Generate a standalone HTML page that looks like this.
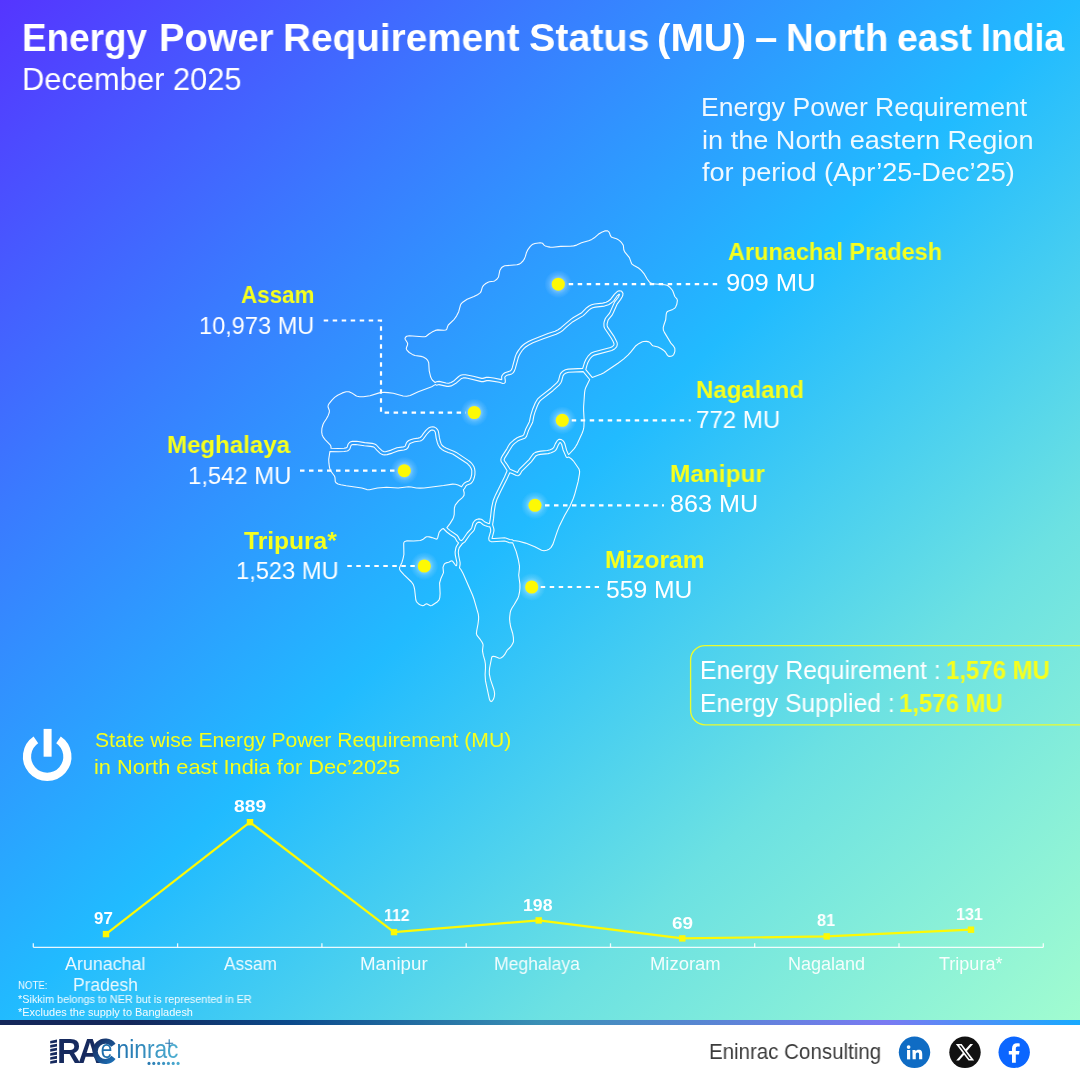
<!DOCTYPE html>
<html lang="en"><head><meta charset="utf-8"><title>Energy Power Requirement Status (MU) – North east India</title>
<style>
html,body{margin:0;padding:0;}
body{width:1080px;height:1080px;overflow:hidden;background:#fff;position:relative;font-family:"Liberation Sans", sans-serif;}
.bg{position:absolute;left:0;top:0;width:1080px;height:1020px;background:linear-gradient(to bottom right,#5535ff 0%,#3a7aff 25%,#21bbff 50%,#6ce1e2 75%,#a1fcd0 100%);}
.strip{position:absolute;left:0;top:1020px;width:1080px;height:5px;background:linear-gradient(to right,#14275a 0%,#14275a 12%,#0b4a8c 27%,#3a90b6 50%,#7a7af2 82%,#18aaff 100%);}
.foot{position:absolute;left:0;top:1025px;width:1080px;height:55px;background:#fff;}
svg.ov{position:absolute;left:0;top:0;will-change:transform;}
.t{position:absolute;white-space:nowrap;line-height:1;transform-origin:0 0;font-family:"Liberation Sans", sans-serif;will-change:transform;}
#wrap{position:absolute;left:0;top:0;width:1080px;height:1080px;}
</style></head><body><div id="wrap">
<div class="bg"></div><div class="strip"></div><div class="foot"></div>
<svg class="ov" width="1080" height="1080" viewBox="0 0 1080 1080">
<defs><radialGradient id="halo"><stop offset="0.4" stop-color="#fff" stop-opacity="0.42"/><stop offset="0.68" stop-color="#fff" stop-opacity="0.16"/><stop offset="1" stop-color="#fff" stop-opacity="0"/></radialGradient></defs>
<g id="map"><path d="M407.7 343.7 L407.5 345.0 L406.5 347.5 L406.3 348.7 L406.9 350.1 L409.2 352.5 L412.3 354.4 L415.0 355.5 L421.1 356.4 L423.3 357.0 L425.8 358.4 L427.7 360.4 L428.7 362.7 L429.2 370.8 L430.7 377.1 L431.7 379.1 L432.5 380.3 L435.2 382.5 L437.1 381.6 L439.2 381.4 L446.0 383.0 L448.2 383.2 L449.3 383.1 L451.1 382.4 L454.1 380.7 L458.7 376.5 L460.0 375.6 L461.5 375.0 L463.0 374.7 L465.5 374.7 L468.2 375.2 L473.3 376.2 L481.7 378.4 L482.9 378.4 L486.3 377.4 L488.3 377.3 L493.7 378.0 L501.5 379.6 L501.8 379.3 L501.6 376.7 L502.2 375.3 L503.2 374.0 L504.9 372.8 L510.1 371.1 L511.3 369.9 L512.2 367.9 L515.4 356.1 L516.6 353.4 L518.1 350.9 L520.6 347.5 L522.5 345.5 L524.7 343.7 L528.4 341.5 L532.8 339.4 L548.0 333.6 L555.1 331.2 L558.1 329.8 L561.0 327.7 L564.8 324.3 L571.1 319.1 L573.4 317.5 L581.3 313.1 L586.7 307.7 L589.1 306.0 L591.6 304.8 L594.6 304.0 L602.7 303.1 L606.1 302.3 L608.1 301.2 L610.7 299.2 L614.5 294.2 L617.2 291.6 L619.1 290.8 L621.2 291.0 L621.9 291.6 L623.0 293.4 L622.8 295.2 L622.2 296.8 L620.5 299.6 L617.3 303.8 L613.3 312.8 L611.9 315.4 L608.6 319.3 L608.1 320.2 L607.1 323.8 L607.2 325.9 L607.5 326.9 L613.8 336.1 L616.6 341.4 L617.2 343.0 L617.3 344.3 L616.9 346.2 L615.9 347.7 L614.6 348.9 L611.8 350.5 L594.4 355.1 L592.4 356.2 L590.8 357.8 L589.4 359.8 L587.8 362.8 L587.0 365.1 L585.8 369.6 L592.2 377.4 L600.8 374.2 L603.5 373.0 L618.0 363.3 L623.5 359.1 L628.2 354.9 L630.7 352.2 L634.1 347.8 L635.9 345.7 L639.1 343.4 L642.4 341.8 L643.8 341.5 L646.5 341.4 L648.9 341.9 L650.0 342.6 L651.8 344.9 L652.8 345.7 L658.0 347.0 L661.3 348.7 L663.5 350.2 L665.4 352.0 L667.5 355.4 L668.3 356.1 L669.6 356.4 L671.1 356.2 L672.5 355.7 L673.5 354.8 L674.1 353.8 L674.9 351.1 L674.8 348.3 L673.6 346.2 L670.9 343.1 L664.4 332.4 L663.4 330.1 L663.2 327.7 L663.9 325.0 L665.7 319.8 L666.2 314.3 L666.5 313.1 L667.0 312.0 L667.9 311.3 L672.8 309.4 L674.8 308.1 L675.6 307.0 L676.8 304.3 L677.4 300.4 L676.9 298.9 L674.8 296.5 L672.9 291.2 L672.2 290.0 L670.4 287.8 L668.3 286.0 L667.0 285.3 L664.6 284.7 L652.5 283.8 L650.2 282.8 L649.3 281.9 L647.0 278.7 L644.4 274.2 L641.3 270.4 L638.5 268.0 L634.0 265.5 L632.0 264.1 L631.3 262.9 L629.4 257.6 L624.9 252.2 L624.3 251.1 L623.8 249.8 L623.4 245.8 L622.9 244.6 L621.6 242.7 L619.8 240.9 L617.8 239.4 L616.5 238.8 L612.4 237.5 L611.3 236.9 L610.4 235.6 L609.4 232.7 L608.6 231.6 L607.6 230.9 L606.4 230.7 L604.8 230.9 L601.7 232.2 L598.3 234.3 L594.3 237.8 L591.8 239.4 L588.6 240.7 L581.5 242.8 L576.6 245.1 L573.7 245.9 L570.1 246.3 L560.7 246.4 L552.8 247.2 L550.1 247.1 L547.4 246.6 L545.2 245.9 L544.1 245.1 L542.6 243.3 L540.2 242.7 L534.9 243.5 L532.2 244.6 L530.3 246.4 L527.7 249.9 L526.5 252.4 L525.4 256.4 L524.4 258.9 L523.0 261.0 L521.3 262.7 L519.3 264.1 L516.9 264.8 L504.8 265.8 L503.7 266.2 L502.4 266.9 L501.3 268.0 L499.8 270.6 L498.5 277.0 L496.9 279.3 L494.6 280.9 L493.5 281.3 L489.4 281.8 L488.1 282.2 L485.8 283.5 L483.8 285.1 L483.0 286.1 L482.3 287.3 L481.1 291.4 L480.4 292.6 L479.5 293.4 L477.5 294.7 L473.9 296.5 L467.1 299.3 L462.7 302.2 L460.9 304.2 L460.4 305.3 L458.7 311.7 L456.5 316.1 L454.2 319.3 L448.3 325.0 L447.6 326.5 L446.8 329.1 L445.8 330.0 L443.6 330.3 L437.9 329.9 L435.4 330.4 L432.0 332.1 L429.0 334.0 L426.2 336.2 L425.0 336.7 L422.5 336.8 L409.4 335.7 L406.7 336.3 L405.5 337.2 L405.0 338.4 L405.3 339.5 L407.1 342.3Z" fill="none" stroke="#fff" stroke-width="1.1" stroke-linejoin="round" opacity="0.95"/>
<path d="M329.3 410.2 L329.4 411.5 L329.2 412.8 L328.2 415.4 L326.3 419.0 L324.1 422.2 L323.0 424.5 L321.9 428.3 L321.7 432.2 L322.2 434.9 L323.4 437.4 L325.1 439.7 L330.2 444.9 L330.7 445.7 L331.1 447.3 L330.9 448.0 L331.1 448.3 L338.5 448.5 L344.0 448.3 L346.2 447.9 L347.2 447.1 L348.0 444.3 L349.4 442.5 L350.7 441.8 L352.3 441.4 L356.8 441.3 L364.7 442.6 L372.2 443.4 L374.6 444.0 L376.4 445.0 L379.0 447.9 L382.0 450.7 L383.7 451.6 L385.5 451.7 L391.2 450.1 L396.9 447.8 L403.3 446.9 L404.7 446.5 L405.3 445.8 L406.3 443.1 L407.2 441.7 L408.7 440.5 L411.2 439.5 L413.8 438.7 L418.2 438.1 L420.2 437.5 L421.6 436.1 L423.3 433.6 L425.9 430.4 L427.8 428.6 L429.0 427.7 L430.9 427.0 L432.8 426.8 L434.5 427.1 L436.2 428.1 L437.3 429.3 L438.3 431.1 L438.8 433.6 L439.4 437.7 L440.3 441.3 L441.1 443.7 L442.2 445.5 L443.8 446.8 L446.0 448.0 L449.4 449.6 L453.8 451.2 L456.3 452.4 L468.6 460.6 L470.6 462.2 L472.6 464.5 L474.1 467.1 L474.6 468.7 L475.0 471.6 L474.9 474.6 L474.3 477.5 L473.4 480.2 L471.7 482.8 L470.4 483.7 L466.6 485.3 L465.8 486.2 L464.3 488.9 L463.4 489.6 L464.2 493.0 L464.0 495.4 L462.7 497.3 L458.6 500.9 L455.6 504.6 L455.1 505.6 L454.4 508.0 L454.2 514.7 L453.6 517.2 L452.6 519.4 L450.0 523.6 L446.9 527.6 L447.9 528.7 L449.9 530.4 L457.0 535.2 L458.1 536.6 L459.7 539.7 L461.2 540.6 L462.6 539.7 L467.2 533.0 L470.8 529.2 L471.8 527.4 L473.0 523.0 L474.2 521.3 L475.3 520.2 L476.5 519.5 L479.0 518.9 L481.3 519.3 L482.9 520.3 L485.0 522.1 L488.4 523.5 L489.1 523.6 L489.5 523.5 L490.4 517.9 L491.6 507.6 L493.1 500.8 L495.5 494.9 L504.4 477.0 L507.1 470.7 L503.7 465.1 L501.2 461.6 L500.8 459.8 L501.2 458.0 L502.0 456.4 L507.0 448.6 L508.6 445.5 L510.3 443.1 L513.5 440.3 L517.1 437.7 L518.9 436.9 L522.6 435.8 L523.8 434.7 L525.6 429.3 L529.4 421.7 L530.7 415.3 L532.8 408.7 L535.3 402.7 L537.4 399.2 L540.4 396.4 L550.9 388.2 L556.7 382.9 L558.1 381.2 L558.6 380.2 L560.0 374.9 L560.6 373.5 L562.8 371.2 L565.3 369.8 L568.2 369.1 L582.7 368.4 L584.4 362.8 L586.0 359.2 L588.3 355.8 L590.5 353.6 L592.3 352.6 L594.4 351.8 L610.5 347.5 L612.6 346.4 L613.9 345.0 L614.0 343.7 L613.1 341.5 L611.0 337.8 L604.6 328.2 L604.0 326.5 L603.9 323.5 L604.2 321.7 L605.2 318.8 L606.0 317.5 L609.2 313.7 L610.4 311.4 L614.5 302.2 L618.5 297.0 L619.6 294.4 L619.1 294.2 L616.9 296.2 L614.1 300.3 L612.9 301.6 L610.9 303.2 L608.6 304.7 L604.4 306.1 L595.3 307.1 L592.7 307.8 L590.7 308.8 L588.9 310.1 L585.4 313.7 L583.3 315.6 L572.9 321.7 L566.9 326.7 L563.1 330.2 L559.7 332.6 L556.2 334.2 L543.3 338.8 L532.9 342.8 L528.7 345.0 L525.6 347.0 L523.8 348.6 L522.2 350.5 L520.1 353.7 L518.9 356.0 L518.1 358.3 L515.2 368.9 L514.0 371.7 L513.1 372.9 L511.7 373.9 L506.3 375.6 L505.0 376.8 L504.8 377.4 L505.3 380.4 L505.3 382.0 L505.0 382.7 L504.3 383.3 L502.8 383.5 L499.4 382.3 L489.1 380.6 L486.8 380.6 L483.3 381.6 L481.4 381.6 L467.6 378.3 L465.2 377.9 L463.2 377.9 L461.6 378.4 L455.9 383.3 L451.2 385.9 L448.6 386.4 L447.0 386.4 L439.1 384.6 L438.0 384.7 L436.7 385.2 L435.2 384.6 L431.7 386.7 L418.3 391.7 L410.2 395.5 L406.7 396.3 L403.1 396.0 L393.3 393.3 L388.0 392.6 L384.2 392.4 L381.7 392.5 L379.3 392.9 L370.0 395.8 L363.4 396.8 L359.6 396.8 L357.2 396.3 L356.0 395.8 L351.7 392.9 L349.5 391.9 L348.3 391.7 L346.1 391.8 L342.4 392.9 L337.7 395.2 L334.6 397.4 L331.7 400.3 L329.3 403.3 L328.3 405.0 L328.0 406.5 L328.3 407.8Z" fill="none" stroke="#fff" stroke-width="1.1" stroke-linejoin="round" opacity="0.95"/>
<path d="M568.8 454.5 L574.0 448.8 L575.5 446.8 L577.4 443.6 L582.1 433.3 L583.3 429.9 L583.8 427.4 L584.0 424.9 L584.1 419.6 L583.6 410.6 L583.6 406.7 L584.6 392.4 L585.0 389.8 L585.8 387.4 L589.7 379.5 L583.2 371.6 L568.6 372.2 L565.5 373.2 L564.0 374.4 L563.0 375.9 L561.5 381.5 L560.7 383.0 L559.1 385.1 L552.9 390.7 L541.5 399.6 L539.9 401.2 L538.7 403.1 L537.2 406.3 L534.9 412.4 L533.8 416.1 L532.9 421.2 L532.4 422.8 L528.5 430.6 L526.5 436.4 L525.5 437.7 L524.2 438.6 L519.9 440.0 L517.7 441.1 L514.4 443.6 L512.7 445.3 L504.7 458.1 L504.1 459.8 L504.6 461.0 L506.3 463.3 L510.1 469.2 L517.5 472.4 L519.4 469.1 L529.0 459.6 L532.7 454.5 L533.8 453.4 L535.4 452.4 L538.1 451.6 L540.9 451.1 L547.4 450.5 L550.2 449.7 L552.4 448.8 L553.8 447.4 L555.4 443.6 L557.2 440.7 L558.5 439.6 L559.3 439.3 L561.4 439.6 L562.9 440.6 L564.1 442.1 L564.8 443.6 L566.6 450.2 L568.4 454.4Z" fill="none" stroke="#fff" stroke-width="1.1" stroke-linejoin="round" opacity="0.95"/>
<path d="M512.5 539.8 L513.7 540.8 L515.4 540.7 L518.8 541.3 L525.6 543.1 L534.8 546.7 L541.6 550.3 L544.0 550.7 L546.7 550.3 L549.1 549.2 L550.9 547.6 L553.0 544.1 L557.1 531.9 L559.4 525.9 L564.6 515.6 L569.8 506.5 L573.3 498.5 L574.9 493.6 L578.1 481.7 L579.5 473.7 L579.6 471.3 L579.0 469.0 L573.3 460.8 L571.5 459.0 L568.9 457.1 L567.3 457.6 L566.7 457.4 L566.1 456.9 L563.1 450.0 L561.7 444.5 L560.8 443.0 L560.1 442.6 L559.7 442.7 L558.3 445.0 L556.5 449.2 L555.4 450.6 L554.0 451.5 L551.2 452.8 L548.2 453.6 L540.3 454.4 L537.6 455.0 L535.8 455.9 L531.3 461.8 L521.9 471.1 L520.2 474.2 L518.7 475.5 L518.0 475.7 L516.3 475.5 L512.1 473.5 L509.8 472.7 L507.2 478.4 L500.5 491.7 L496.9 499.6 L495.8 503.0 L495.2 505.6 L494.2 511.9 L493.6 518.4 L492.6 524.6 L493.8 528.6 L494.0 530.1 L493.8 531.6 L492.0 538.3 L492.2 538.5 L494.1 538.5 L504.7 537.8 L506.4 538.2 L509.7 539.5Z" fill="none" stroke="#fff" stroke-width="1.1" stroke-linejoin="round" opacity="0.95"/>
<path d="M459.5 567.8 L460.9 569.5 L463.2 573.8 L472.5 595.0 L474.2 599.8 L478.3 614.2 L478.6 616.7 L478.6 619.2 L478.0 624.0 L476.7 630.8 L476.4 633.6 L477.0 635.4 L480.4 639.7 L481.8 641.8 L482.9 644.1 L483.1 645.3 L482.5 650.4 L482.6 651.7 L483.4 655.7 L484.8 660.3 L485.4 664.0 L485.5 668.0 L485.1 674.5 L485.5 680.9 L489.4 699.1 L490.1 700.8 L491.1 701.6 L491.8 701.3 L492.7 700.3 L493.5 699.1 L494.3 696.7 L494.6 693.9 L494.3 691.4 L493.6 688.7 L490.5 679.6 L489.4 674.4 L489.3 671.8 L489.6 668.0 L491.7 657.4 L492.2 656.6 L493.3 656.3 L496.1 656.9 L498.7 658.1 L500.0 658.2 L501.3 657.7 L502.7 656.8 L504.6 654.7 L507.0 650.4 L510.0 647.5 L511.7 645.3 L513.1 642.8 L513.5 641.3 L513.4 637.6 L512.7 633.5 L510.7 627.0 L510.0 623.2 L509.6 619.3 L509.7 616.7 L510.2 612.7 L510.9 610.2 L512.0 608.0 L514.1 604.8 L517.8 598.4 L518.7 595.9 L519.5 592.2 L519.9 588.2 L519.9 584.3 L518.7 575.2 L519.4 568.8 L519.5 566.1 L518.3 559.5 L516.2 551.6 L512.7 542.9 L508.9 542.6 L505.5 541.2 L504.3 541.0 L492.7 541.7 L491.2 541.6 L489.7 541.0 L489.1 540.3 L488.7 538.7 L488.9 537.3 L490.7 531.2 L490.6 529.2 L489.9 526.9 L487.6 526.5 L484.7 525.5 L483.2 524.7 L480.3 522.4 L479.0 522.1 L477.9 522.4 L476.5 523.5 L475.5 525.4 L474.3 529.7 L473.3 531.1 L469.7 535.0 L464.9 541.9 L462.2 543.8 L459.3 547.7 L458.6 549.9 L458.3 552.3 L458.7 555.8 L460.1 562.5 L460.1 564.4Z" fill="none" stroke="#fff" stroke-width="1.1" stroke-linejoin="round" opacity="0.95"/>
<path d="M426.7 603.7 L430.5 605.7 L431.8 605.5 L437.5 601.7 L439.1 599.8 L439.8 597.5 L440.1 593.5 L439.6 583.0 L440.8 578.8 L443.5 572.6 L443.0 567.4 L444.0 564.6 L444.8 563.5 L446.0 562.9 L448.7 562.2 L451.0 561.0 L452.1 560.9 L452.9 561.6 L455.2 564.8 L456.2 565.8 L456.6 565.6 L456.9 562.7 L455.3 555.1 L455.1 552.1 L455.9 547.7 L456.5 546.2 L458.6 542.9 L457.2 541.7 L454.8 537.5 L450.4 534.7 L446.8 532.0 L443.3 528.5 L442.2 529.0 L441.2 529.9 L440.1 531.0 L439.1 532.4 L437.6 538.0 L437.0 538.9 L436.0 539.1 L431.9 537.6 L429.3 536.9 L428.0 536.7 L426.7 536.8 L425.6 537.3 L422.7 539.6 L420.4 540.5 L413.7 541.0 L406.6 540.9 L404.7 541.5 L403.9 542.5 L403.7 543.7 L403.9 554.5 L403.1 558.3 L402.0 562.2 L399.6 567.5 L399.5 568.7 L399.8 569.8 L400.5 570.9 L404.1 574.8 L411.5 582.0 L413.2 584.3 L414.0 586.7 L414.6 589.3 L415.8 599.8 L416.4 601.5 L417.3 602.7 L418.4 603.7 L420.5 605.1 L422.7 605.8 L424.1 605.2 L425.4 604.2Z" fill="none" stroke="#fff" stroke-width="1.1" stroke-linejoin="round" opacity="0.95"/>
<path d="M329.9 451.6 L328.7 459.3 L328.9 463.2 L329.5 467.3 L330.2 469.8 L330.8 471.0 L334.6 476.3 L335.0 477.7 L335.3 481.7 L336.0 482.8 L338.0 484.0 L340.8 484.7 L346.2 485.8 L361.8 488.0 L366.9 489.6 L369.5 489.7 L377.4 488.0 L386.5 487.2 L398.1 488.0 L408.5 486.7 L411.3 487.0 L416.3 488.0 L420.0 488.1 L424.1 488.0 L443.6 485.5 L452.6 484.1 L455.4 484.3 L458.0 485.0 L459.1 485.4 L461.6 486.8 L463.2 484.3 L464.5 482.9 L466.1 482.0 L468.8 480.9 L469.6 480.3 L470.9 477.8 L471.7 474.3 L471.8 470.6 L471.2 468.5 L470.0 466.4 L467.6 463.8 L454.6 455.2 L452.6 454.1 L448.1 452.6 L444.5 450.9 L441.9 449.4 L439.7 447.5 L438.2 445.0 L437.2 442.2 L436.2 438.3 L435.3 432.3 L434.1 430.5 L432.6 430.0 L431.6 430.1 L430.6 430.5 L429.2 431.7 L426.6 434.5 L423.2 439.1 L421.7 440.4 L420.0 441.0 L414.6 441.8 L411.2 442.9 L409.7 443.7 L409.2 444.5 L408.1 447.5 L406.5 449.2 L403.9 450.0 L397.8 450.9 L392.3 453.1 L387.2 454.6 L384.3 454.9 L382.9 454.8 L381.4 454.1 L379.9 453.1 L376.8 450.2 L374.4 447.5 L373.4 446.9 L370.6 446.4 L364.3 445.7 L355.6 444.5 L352.8 444.6 L351.4 445.1 L351.0 445.6 L349.9 448.9 L348.5 450.4 L347.1 451.0 L344.2 451.5 L338.6 451.7 L330.2 451.5Z" fill="none" stroke="#fff" stroke-width="1.1" stroke-linejoin="round" opacity="0.95"/></g>
<path d="M568.7 284.2 L717.5 284.2" fill="none" stroke="#fff" stroke-width="2.2" stroke-dasharray="4.5 4.5"/>
<path d="M323.7 320.5 L381.0 320.5 L381.0 412.6 L466.0 412.6" fill="none" stroke="#fff" stroke-width="2.2" stroke-dasharray="4.5 4.5"/>
<path d="M571.7 420.3 L690.7 420.3" fill="none" stroke="#fff" stroke-width="2.2" stroke-dasharray="4.5 4.5"/>
<path d="M300.0 470.7 L395.0 470.7" fill="none" stroke="#fff" stroke-width="2.2" stroke-dasharray="4.5 4.5"/>
<path d="M545.0 505.3 L664.0 505.3" fill="none" stroke="#fff" stroke-width="2.2" stroke-dasharray="4.5 4.5"/>
<path d="M347.3 566.0 L415.0 566.0" fill="none" stroke="#fff" stroke-width="2.2" stroke-dasharray="4.5 4.5"/>
<path d="M540.7 587.0 L599.0 587.0" fill="none" stroke="#fff" stroke-width="2.2" stroke-dasharray="4.5 4.5"/>
<circle cx="558.3" cy="284.2" r="14" fill="url(#halo)"/><circle cx="558.3" cy="284.2" r="6.55" fill="#fdf905"/>
<circle cx="474.3" cy="412.5" r="14" fill="url(#halo)"/><circle cx="474.3" cy="412.5" r="6.55" fill="#fdf905"/>
<circle cx="562.3" cy="420.3" r="14" fill="url(#halo)"/><circle cx="562.3" cy="420.3" r="6.55" fill="#fdf905"/>
<circle cx="404.3" cy="470.7" r="14" fill="url(#halo)"/><circle cx="404.3" cy="470.7" r="6.55" fill="#fdf905"/>
<circle cx="535" cy="505.3" r="14" fill="url(#halo)"/><circle cx="535" cy="505.3" r="6.55" fill="#fdf905"/>
<circle cx="424.3" cy="566" r="14" fill="url(#halo)"/><circle cx="424.3" cy="566" r="6.55" fill="#fdf905"/>
<circle cx="531.7" cy="587" r="14" fill="url(#halo)"/><circle cx="531.7" cy="587" r="6.55" fill="#fdf905"/>
<rect x="690.6" y="645.6" width="420" height="79.2" rx="14.5" ry="14.5" fill="none" stroke="#eafc2e" stroke-width="1.35"/>
<path d="M58.50 739.85 A20.2 20.2 0 1 1 35.90 739.85" fill="none" stroke="#fff" stroke-width="8.2"/><rect x="43.6" y="728.9" width="8" height="27.8" fill="#fff"/>
<path d="M33.3 947.3 H1043.3" stroke="#fff" stroke-width="1.3" fill="none" opacity="0.9"/>
<path d="M33.3 943.3 V947.3" stroke="#fff" stroke-width="1.3" opacity="0.9"/>
<path d="M177.6 943.3 V947.3" stroke="#fff" stroke-width="1.3" opacity="0.9"/>
<path d="M321.9 943.3 V947.3" stroke="#fff" stroke-width="1.3" opacity="0.9"/>
<path d="M466.2 943.3 V947.3" stroke="#fff" stroke-width="1.3" opacity="0.9"/>
<path d="M610.5 943.3 V947.3" stroke="#fff" stroke-width="1.3" opacity="0.9"/>
<path d="M754.7 943.3 V947.3" stroke="#fff" stroke-width="1.3" opacity="0.9"/>
<path d="M899.0 943.3 V947.3" stroke="#fff" stroke-width="1.3" opacity="0.9"/>
<path d="M1043.3 943.3 V947.3" stroke="#fff" stroke-width="1.3" opacity="0.9"/>
<path d="M106 934.1 L250 822.2 L394 932.1 L538.7 920.4 L682.3 938.4 L826.7 936.4 L971 929.7" fill="none" stroke="#fdf905" stroke-width="2.2" stroke-linejoin="round"/>
<rect x="102.8" y="930.9" width="6.4" height="6.4" fill="#fdf905"/>
<rect x="246.8" y="819.0" width="6.4" height="6.4" fill="#fdf905"/>
<rect x="390.8" y="928.9" width="6.4" height="6.4" fill="#fdf905"/>
<rect x="535.5" y="917.1999999999999" width="6.4" height="6.4" fill="#fdf905"/>
<rect x="679.0999999999999" y="935.1999999999999" width="6.4" height="6.4" fill="#fdf905"/>
<rect x="823.5" y="933.1999999999999" width="6.4" height="6.4" fill="#fdf905"/>
<rect x="967.8" y="926.5" width="6.4" height="6.4" fill="#fdf905"/>
<circle cx="914.5" cy="1052.3" r="15.7" fill="#0f6cc4"/>
<g fill="#fff" transform="translate(914.5,1052.6) scale(0.9) translate(-914.9,-1052.3)"><rect x="906.6" y="1049.4" width="3.5" height="10.4"/><circle cx="908.35" cy="1046.2" r="2.05"/><path d="M912.6 1049.4h3.4v1.4c.6-1 1.8-1.7 3.500-1.700 3.400 0 4 2.200 4 5v5.700h-3.500v-5c0-1.200 0-2.700-1.700-2.700s-2 1.300-2 2.600v5.100h-3.500z"/></g>
<circle cx="965" cy="1052.3" r="15.7" fill="#111"/>
<g transform="translate(954.77,1042.1) scale(0.85)"><path fill="#fff" d="M18.244 2.25h3.308l-7.227 8.26 8.502 11.24H16.17l-5.214-6.817L4.99 21.75H1.68l7.73-8.835L1.254 2.25H8.08l4.713 6.231zm-1.161 17.52h1.833L7.084 4.126H5.117z"/></g>
<circle cx="1014.2" cy="1052.3" r="15.7" fill="#0b66ff"/>
<path fill="#fff" d="M1012 1062.7v-8.2h-3.2v-3.500h3.200v-2.600c0-3.400 2-5.200 5-5.200 1 0 2 .1 2.700 .2v3.100h-1.700c-1.600 0-2.200 .8-2.200 2.200v2.300h3.700l-.55 3.500h-3.150v8.200z"/>
<g fill="#162a5e">
<path d="M50.2 1041.00 L57 1039.60 V1042.50 L50.2 1043.60 Z"/>
<path d="M50.2 1045.05 L57 1043.65 V1046.55 L50.2 1047.65 Z"/>
<path d="M50.2 1049.10 L57 1047.70 V1050.60 L50.2 1051.70 Z"/>
<path d="M50.2 1053.15 L57 1051.75 V1054.65 L50.2 1055.75 Z"/>
<path d="M50.2 1057.20 L57 1055.80 V1058.70 L50.2 1059.80 Z"/>
<path d="M50.2 1061.25 L57 1059.85 V1062.75 L50.2 1063.85 Z"/>
</g>
<text x="57" y="1063.3" font-family='"Liberation Sans", sans-serif' font-weight="700" font-size="34.5" fill="#162a5e" textLength="42" lengthAdjust="spacingAndGlyphs" letter-spacing="-3">RA</text>
<defs><linearGradient id="cg" x1="0" y1="0" x2="1" y2="1"><stop offset="0" stop-color="#162a5e"/><stop offset="1" stop-color="#1c6fb5"/></linearGradient><linearGradient id="ng" x1="0" y1="0" x2="1" y2="0"><stop offset="0" stop-color="#1f70ad"/><stop offset="1" stop-color="#4fb0d2"/></linearGradient></defs>
<path d="M113.5 1045.2 A10.2 10.2 0 1 0 113.5 1057.4" fill="none" stroke="url(#cg)" stroke-width="5.2"/>
<text x="100.8" y="1057.8" font-family='"Liberation Sans", sans-serif' font-size="25" fill="#1f70ad" textLength="11.5" lengthAdjust="spacingAndGlyphs">e</text>
<text x="116.5" y="1057.8" font-family='"Liberation Sans", sans-serif' font-size="25.500" fill="url(#ng)" textLength="62" lengthAdjust="spacingAndGlyphs">ninrac</text>
<path d="M169.2 1039.3v8M165.2 1043.3h8" stroke="#2a77b0" stroke-width="1.1"/>
<circle cx="149.0" cy="1063.4" r="1.55" fill="#2a7bb2"/>
<circle cx="153.8" cy="1063.4" r="1.55" fill="#2f83b8"/>
<circle cx="158.7" cy="1063.4" r="1.55" fill="#358bbd"/>
<circle cx="163.6" cy="1063.4" r="1.55" fill="#3a93c2"/>
<circle cx="168.4" cy="1063.4" r="1.55" fill="#409bc7"/>
<circle cx="173.2" cy="1063.4" r="1.55" fill="#46a3cc"/>
<circle cx="178.1" cy="1063.4" r="1.55" fill="#4cabd0"/>
</svg>
<div class="t" style="left:21.64px;top:18.00px;font-size:39.68px;font-weight:700;color:#ffffff;transform:scaleX(0.9288);">Energy</div>
<div class="t" style="left:159.27px;top:18.00px;font-size:39.68px;font-weight:700;color:#ffffff;transform:scaleX(0.9630);">Power</div>
<div class="t" style="left:282.55px;top:18.00px;font-size:39.68px;font-weight:700;color:#ffffff;transform:scaleX(0.9760);">Requirement</div>
<div class="t" style="left:528.61px;top:18.00px;font-size:39.68px;font-weight:700;color:#ffffff;transform:scaleX(0.9935);">Status</div>
<div class="t" style="left:657.49px;top:18.00px;font-size:39.68px;font-weight:700;color:#ffffff;transform:scaleX(1.0127);">(MU)</div>
<div class="t" style="left:755.19px;top:18.00px;font-size:39.68px;font-weight:700;color:#ffffff;transform:scaleX(1.0150);">–</div>
<div class="t" style="left:786.06px;top:18.00px;font-size:39.68px;font-weight:700;color:#ffffff;transform:scaleX(0.9682);">North</div>
<div class="t" style="left:897.36px;top:18.00px;font-size:39.68px;font-weight:700;color:#ffffff;transform:scaleX(0.9426);">east</div>
<div class="t" style="left:980.50px;top:18.00px;font-size:39.68px;font-weight:700;color:#ffffff;transform:scaleX(0.8983);">India</div>
<div class="t" style="left:21.64px;top:64.00px;font-size:31.54px;font-weight:400;color:#ffffff;transform:scaleX(0.9787);">December 2025</div>
<div class="t" style="left:700.91px;top:95.00px;font-size:25.44px;font-weight:400;color:#ffffff;transform:scaleX(1.0435);opacity:0.93;">Energy Power Requirement</div>
<div class="t" style="left:701.63px;top:128.00px;font-size:25.44px;font-weight:400;color:#ffffff;transform:scaleX(1.0656);opacity:0.93;">in the North eastern Region</div>
<div class="t" style="left:702.30px;top:160.00px;font-size:25.44px;font-weight:400;color:#ffffff;transform:scaleX(1.0652);opacity:0.93;">for period (Apr’25-Dec’25)</div>
<div class="t" style="left:727.50px;top:240.00px;font-size:24.56px;font-weight:700;color:#f6ff1e;transform:scaleX(0.9568);">Arunachal Pradesh</div>
<div class="t" style="left:726.46px;top:271.00px;font-size:24.56px;font-weight:400;color:#ffffff;transform:scaleX(1.0418);">909 MU</div>
<div class="t" style="left:240.70px;top:283.00px;font-size:24.56px;font-weight:700;color:#f6ff1e;transform:scaleX(0.9111);">Assam</div>
<div class="t" style="left:199.04px;top:314.00px;font-size:24.56px;font-weight:400;color:#ffffff;transform:scaleX(0.9604);">10,973 MU</div>
<div class="t" style="left:696.32px;top:378.00px;font-size:24.56px;font-weight:700;color:#f6ff1e;transform:scaleX(0.9770);">Nagaland</div>
<div class="t" style="left:695.72px;top:408.00px;font-size:24.56px;font-weight:400;color:#ffffff;transform:scaleX(0.9805);">772 MU</div>
<div class="t" style="left:167.32px;top:433.00px;font-size:24.56px;font-weight:700;color:#f6ff1e;transform:scaleX(0.9803);">Meghalaya</div>
<div class="t" style="left:188.33px;top:464.00px;font-size:24.56px;font-weight:400;color:#ffffff;transform:scaleX(0.9711);">1,542 MU</div>
<div class="t" style="left:669.71px;top:462.00px;font-size:24.56px;font-weight:700;color:#f6ff1e;transform:scaleX(0.9937);">Manipur</div>
<div class="t" style="left:669.68px;top:492.00px;font-size:24.56px;font-weight:400;color:#ffffff;transform:scaleX(1.0250);">863 MU</div>
<div class="t" style="left:244.20px;top:529.00px;font-size:24.56px;font-weight:700;color:#f6ff1e;transform:scaleX(0.9989);">Tripura*</div>
<div class="t" style="left:236.34px;top:559.00px;font-size:24.56px;font-weight:400;color:#ffffff;transform:scaleX(0.9644);">1,523 MU</div>
<div class="t" style="left:605.00px;top:548.00px;font-size:24.56px;font-weight:700;color:#f6ff1e;transform:scaleX(0.9955);">Mizoram</div>
<div class="t" style="left:606.00px;top:578.00px;font-size:24.56px;font-weight:400;color:#ffffff;transform:scaleX(1.0057);">559 MU</div>
<div class="t" style="left:700.22px;top:658.00px;font-size:25.00px;font-weight:400;color:#ffffff;transform:scaleX(0.9898);">Energy Requirement :</div>
<div class="t" style="left:946.44px;top:658.00px;font-size:25.00px;font-weight:700;color:#f6ff1e;transform:scaleX(0.9583);">1,576 MU</div>
<div class="t" style="left:700.23px;top:691.00px;font-size:25.00px;font-weight:400;color:#ffffff;transform:scaleX(0.9865);">Energy Supplied :</div>
<div class="t" style="left:899.44px;top:691.00px;font-size:25.00px;font-weight:700;color:#f6ff1e;transform:scaleX(0.9574);">1,576 MU</div>
<div class="t" style="left:94.70px;top:730.00px;font-size:20.78px;font-weight:400;color:#f6ff1e;transform:scaleX(1.0188);">State wise Energy Power Requirement (MU)</div>
<div class="t" style="left:93.65px;top:757.00px;font-size:20.78px;font-weight:400;color:#f6ff1e;transform:scaleX(1.0486);">in North east India for Dec’2025</div>
<div class="t" style="left:94.30px;top:911.00px;font-size:16.86px;font-weight:700;color:#ffffff;transform:scaleX(0.9795);">97</div>
<div class="t" style="left:234.30px;top:799.00px;font-size:16.86px;font-weight:700;color:#ffffff;transform:scaleX(1.1422);">889</div>
<div class="t" style="left:384.06px;top:908.00px;font-size:16.86px;font-weight:700;color:#ffffff;transform:scaleX(0.9410);">112</div>
<div class="t" style="left:523.25px;top:898.00px;font-size:16.86px;font-weight:700;color:#ffffff;transform:scaleX(1.0466);">198</div>
<div class="t" style="left:671.70px;top:916.00px;font-size:16.86px;font-weight:700;color:#ffffff;transform:scaleX(1.1210);">69</div>
<div class="t" style="left:817.30px;top:913.00px;font-size:16.86px;font-weight:700;color:#ffffff;transform:scaleX(0.9632);">81</div>
<div class="t" style="left:956.35px;top:907.00px;font-size:16.86px;font-weight:700;color:#ffffff;transform:scaleX(0.9494);">131</div>
<div class="t" style="left:65.10px;top:955.00px;font-size:18.02px;font-weight:400;color:#ffffff;transform:scaleX(0.9923);opacity:0.92;">Arunachal</div>
<div class="t" style="left:72.53px;top:976.00px;font-size:18.02px;font-weight:400;color:#ffffff;transform:scaleX(0.9680);opacity:0.92;">Pradesh</div>
<div class="t" style="left:224.00px;top:955.00px;font-size:18.02px;font-weight:400;color:#ffffff;transform:scaleX(0.9620);opacity:0.92;">Assam</div>
<div class="t" style="left:359.66px;top:955.00px;font-size:18.02px;font-weight:400;color:#ffffff;transform:scaleX(1.0392);opacity:0.92;">Manipur</div>
<div class="t" style="left:494.02px;top:955.00px;font-size:18.02px;font-weight:400;color:#ffffff;transform:scaleX(0.9760);opacity:0.92;">Meghalaya</div>
<div class="t" style="left:649.68px;top:955.00px;font-size:18.02px;font-weight:400;color:#ffffff;transform:scaleX(1.0230);opacity:0.92;">Mizoram</div>
<div class="t" style="left:788.30px;top:955.00px;font-size:18.02px;font-weight:400;color:#ffffff;transform:scaleX(0.9985);opacity:0.92;">Nagaland</div>
<div class="t" style="left:939.30px;top:955.00px;font-size:18.02px;font-weight:400;color:#ffffff;transform:scaleX(1.0001);opacity:0.92;">Tripura*</div>
<div class="t" style="left:18.40px;top:980.00px;font-size:10.76px;font-weight:400;color:#ffffff;transform:scaleX(0.8945);opacity:0.95;">NOTE:</div>
<div class="t" style="left:18.40px;top:994.00px;font-size:10.90px;font-weight:400;color:#ffffff;transform:scaleX(0.9928);opacity:0.95;">*Sikkim belongs to NER but is represented in ER</div>
<div class="t" style="left:18.40px;top:1007.00px;font-size:10.90px;font-weight:400;color:#ffffff;transform:scaleX(1.0069);opacity:0.95;">*Excludes the supply to Bangladesh</div>
<div class="t" style="left:709.09px;top:1041.00px;font-size:22.53px;font-weight:400;color:#3c3c3c;transform:scaleX(0.9106);">Eninrac Consulting</div>
</div></body></html>
